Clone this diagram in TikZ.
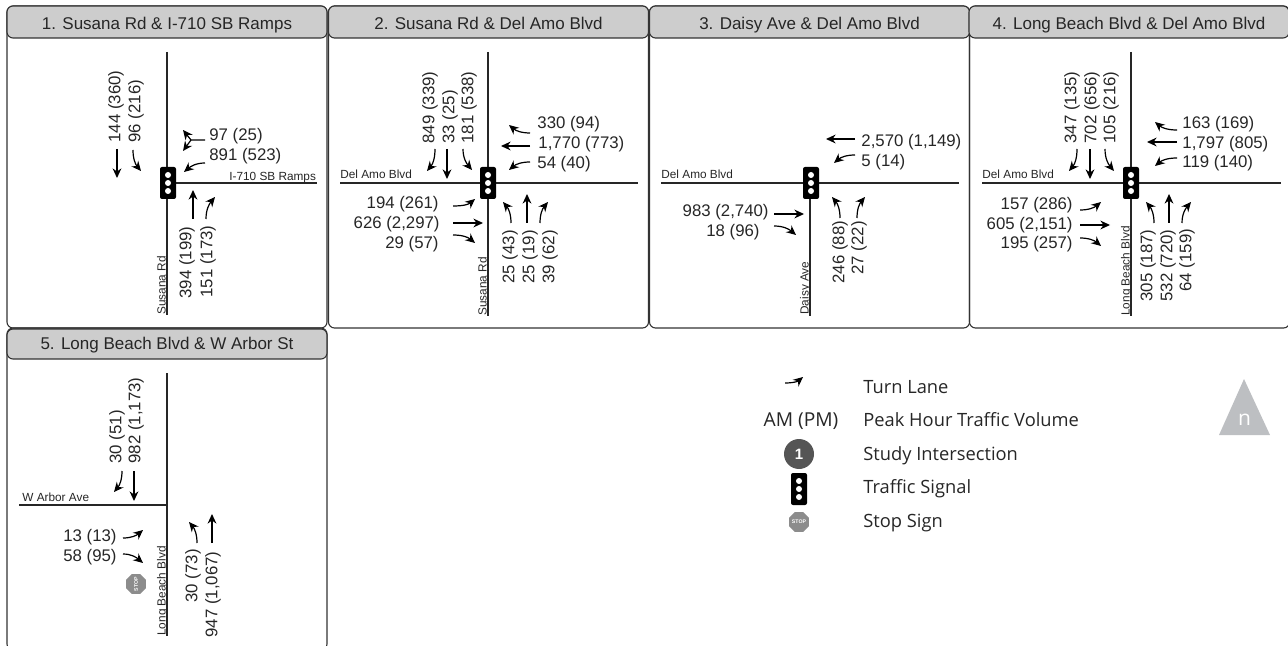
\documentclass[tikz,border=0pt]{standalone}
\usepackage{fontspec}
\setmainfont{Liberation Sans}
\newfontfamily\legendfont{Open Sans}
\usetikzlibrary{arrows.meta, positioning, shapes.geometric}
\definecolor{titlegray}{HTML}{CDCDCD}
\definecolor{framegray}{HTML}{333333}
\definecolor{northgray}{HTML}{BDBFC2}
\definecolor{badgegray}{HTML}{555555}
\definecolor{stopgray}{HTML}{8C8C8C}
\tikzset{
    panelbody/.style={rectangle, draw=framegray, line width=0.55pt, rounded corners=3pt, minimum width=160pt, minimum height=161pt, inner sep=0pt},
    paneltitle/.style={rectangle, draw=framegray, fill=titlegray, line width=0.55pt, rounded corners=3pt, minimum width=160pt, minimum height=16pt, inner sep=0pt, text height=8pt, text depth=0.5pt, text=black!85, font=\fontsize{8.5}{10}\selectfont},
    road/.style={line width=0.6pt, draw=black!85},
    lane/.style={-{Stealth[length=4.8pt,width=4.4pt]}, line width=0.6pt, black},
    volume/.style={inner sep=0pt, text=black!85, font=\fontsize{8.4}{10}\selectfont},
    volup/.style={volume, rotate=90, anchor=west},
    volright/.style={volume, anchor=west, yshift=-0.8pt},
    volleft/.style={volume, anchor=east, yshift=-0.8pt},
    street/.style={inner sep=0pt, text=black!85, font=\fontsize{5.9}{7}\selectfont, anchor=base west},
    streetup/.style={street, rotate=90},
    legendtext/.style={inner sep=0pt, anchor=base west, text=black!85, font=\legendfont\fontsize{9.15}{11}\selectfont},
    stopsign/.style={regular polygon, regular polygon sides=8, fill=stopgray, minimum size=8.8pt, inner sep=0pt, text=white, font=\bfseries\fontsize{2.6}{3}\selectfont},
    signal/.pic={
        \fill[black, rounded corners=1pt] (-8,-16) rectangle (8,16);
        \foreach \dy in {-8,0,8} \fill[white] (0,\dy) circle (3);
    }
}
\newcommand{\lanearrow}[5]{%
    \coordinate (#1a) at (#2);
    \coordinate (#1b) at (#3);
    \draw[lane] (#1a) to[out=#4, in=#5] (#1b);
}

\begin{document}
\begin{tikzpicture}[x=0.5pt, y=-0.5pt]
    \clip (0,0) rectangle (1288,646);

    % Panels
    \node[panelbody] (body1) at (167,167) {};
    \node[panelbody] (body2) at (488.5,167) {};
    \node[panelbody] (body3) at (809.5,167) {};
    \node[panelbody] (body4) at (1129.5,167) {};
    \node[panelbody] (body5) at (167,489) {};
    \node[paneltitle] (title1) at (167,22) {1. Susana Rd \& I-710 SB Ramps};
    \node[paneltitle] (title2) at (488.5,22) {2. Susana Rd \& Del Amo Blvd};
    \node[paneltitle] (title3) at (809.5,22) {3. Daisy Ave \& Del Amo Blvd};
    \node[paneltitle] (title4) at (1129,22) {4. Long Beach Blvd \& Del Amo Blvd};
    \node[paneltitle, minimum height=15pt, text height=6.5pt] (title5) at (167,344) {5. Long Beach Blvd \& W Arbor St};

    % 1. Susana Rd & I-710 SB Ramps
    \coordinate (n1) at (167,52);
    \coordinate (s1) at (167,315);
    \coordinate (c1) at (167,183);
    \coordinate (e1) at (317,183);
    \draw[road] (n1) -- (s1);
    \draw[road] (c1) -- (e1);
    \pic at (168,183) {signal};
    \node[street] (st1a) at (229,181) {I-710 SB Ramps};
    \node[streetup] (st1b) at (165.5,315) {Susana Rd};
    \node[volup] (v1a) at (116,143) {144 (360)};
    \node[volup] (v1b) at (136,143) {96 (216)};
    \node[volright] (v1c) at (209,135) {97 (25)};
    \node[volright] (v1d) at (209,155) {891 (523)};
    \node[volup] (v1e) at (187,299) {394 (199)};
    \node[volup] (v1f) at (208,298) {151 (173)};
    \lanearrow{a1a}{117,149}{117,178}{-90}{90}
    \lanearrow{a1b}{133,150}{141,171}{-90}{130}
    \coordinate (y1t) at (205,140);
    \coordinate (y1m) at (191,140);
    \coordinate (y1u) at (183,130);
    \coordinate (y1d) at (183,151);
    \draw[lane] (y1t) -- (y1m) -- (y1u);
    \draw[lane] (y1m) -- (y1d);
    \lanearrow{a1c}{205,163}{184,172}{180}{40}
    \lanearrow{a1d}{193,219}{193,190}{90}{-90}
    \lanearrow{a1e}{206,219}{215,197}{90}{-130}

    % 2. Susana Rd & Del Amo Blvd
    \coordinate (n2) at (488,52);
    \coordinate (s2) at (488,316);
    \coordinate (w2) at (340,183);
    \coordinate (e2) at (638,183);
    \draw[road] (n2) -- (s2);
    \draw[road] (w2) -- (e2);
    \pic at (488,183) {signal};
    \node[street] (st2a) at (340,179) {Del Amo Blvd};
    \node[streetup] (st2b) at (486.5,316) {Susana Rd};
    \node[volup] (v2a) at (430,144) {849 (339)};
    \node[volup] (v2b) at (450,144) {33 (25)};
    \node[volup] (v2c) at (469,144) {181 (538)};
    \node[volright] (v2d) at (537,123) {330 (94)};
    \node[volright] (v2e) at (538,143) {1,770 (773)};
    \node[volright] (v2f) at (537,163) {54 (40)};
    \node[volleft] (v2g) at (439,203) {194 (261)};
    \node[volleft] (v2h) at (440,223) {626 (2,297)};
    \node[volleft] (v2i) at (439,243) {29 (57)};
    \node[volup] (v2j) at (510,284) {25 (43)};
    \node[volup] (v2k) at (530,284) {25 (19)};
    \node[volup] (v2l) at (550,284) {39 (62)};
    \lanearrow{a2a}{435,149}{427,171}{-90}{50}
    \lanearrow{a2b}{447,149}{447,179}{-90}{90}
    \lanearrow{a2c}{463,149}{472,170}{-90}{130}
    \lanearrow{a2d}{530,133}{509,125}{180}{-40}
    \lanearrow{a2e}{530,146}{501,146}{180}{0}
    \lanearrow{a2f}{530,162}{509,170}{180}{40}
    \lanearrow{a2g}{453,206}{475,199}{0}{-140}
    \lanearrow{a2h}{453,223}{483,223}{0}{180}
    \lanearrow{a2i}{453,235}{475,243}{0}{140}
    \lanearrow{a2j}{511,223}{503,202}{90}{-50}
    \lanearrow{a2k}{527,223}{527,194}{90}{-90}
    \lanearrow{a2l}{540,223}{548,202}{90}{-130}

    % 3. Daisy Ave & Del Amo Blvd
    \coordinate (c3) at (810,183);
    \coordinate (s3) at (810,316);
    \coordinate (w3) at (661,183);
    \coordinate (e3) at (959,183);
    \draw[road] (c3) -- (s3);
    \draw[road] (w3) -- (e3);
    \pic at (811,183) {signal};
    \node[street] (st3a) at (661,179) {Del Amo Blvd};
    \node[streetup] (st3b) at (808.5,315) {Daisy Ave};
    \node[volright] (v3a) at (861,141) {2,570 (1,149)};
    \node[volright] (v3b) at (861,161) {5 (14)};
    \node[volleft] (v3c) at (769,211) {983 (2,740)};
    \node[volleft] (v3d) at (760,231) {18 (96)};
    \node[volup] (v3e) at (840,284) {246 (88)};
    \node[volup] (v3f) at (859,275) {27 (22)};
    \lanearrow{a3a}{855,139}{826,139}{180}{0}
    \lanearrow{a3b}{855,155}{834,163}{180}{40}
    \lanearrow{a3c}{774,214}{804,214}{0}{180}
    \lanearrow{a3d}{774,226}{796,235}{0}{140}
    \lanearrow{a3e}{840,218}{832,197}{90}{-50}
    \lanearrow{a3f}{857,218}{865,197}{90}{-130}

    % 4. Long Beach Blvd & Del Amo Blvd
    \coordinate (n4) at (1131,52);
    \coordinate (s4) at (1131,316);
    \coordinate (w4) at (982,183);
    \coordinate (e4) at (1281,183);
    \draw[road] (n4) -- (s4);
    \draw[road] (w4) -- (e4);
    \pic at (1131,183) {signal};
    \node[street] (st4a) at (982,179) {Del Amo Blvd};
    \node[streetup] (st4b) at (1129.5,316) {Long Beach Blvd};
    \node[volup] (v4a) at (1072,144) {347 (135)};
    \node[volup] (v4b) at (1092,144) {702 (656)};
    \node[volup] (v4c) at (1111,144) {105 (216)};
    \node[volright] (v4d) at (1182,123) {163 (169)};
    \node[volright] (v4e) at (1182,143) {1,797 (805)};
    \node[volright] (v4f) at (1182,162) {119 (140)};
    \node[volleft] (v4g) at (1073,204) {157 (286)};
    \node[volleft] (v4h) at (1073,224) {605 (2,151)};
    \node[volleft] (v4i) at (1073,243) {195 (257)};
    \node[volup] (v4j) at (1148,302) {305 (187)};
    \node[volup] (v4k) at (1168,302) {532 (720)};
    \node[volup] (v4l) at (1187,292) {64 (159)};
    \lanearrow{a4a}{1077,149}{1069,171}{-90}{50}
    \lanearrow{a4b}{1090,149}{1090,179}{-90}{90}
    \lanearrow{a4c}{1105,149}{1114,171}{-90}{130}
    \lanearrow{a4d}{1177,130}{1155,122}{180}{-40}
    \lanearrow{a4e}{1177,142}{1147,142}{180}{0}
    \lanearrow{a4f}{1177,158}{1155,166}{180}{40}
    \lanearrow{a4g}{1080,210}{1101,202}{0}{-140}
    \lanearrow{a4h}{1080,225}{1110,225}{0}{180}
    \lanearrow{a4i}{1080,238}{1101,246}{0}{140}
    \lanearrow{a4j}{1154,223}{1146,202}{90}{-50}
    \lanearrow{a4k}{1169,223}{1169,194}{90}{-90}
    \lanearrow{a4l}{1182,223}{1191,202}{90}{-130}

    % 5. Long Beach Blvd & W Arbor St
    \coordinate (n5) at (167,373);
    \coordinate (s5) at (167,636);
    \coordinate (w5) at (19,505);
    \coordinate (c5) at (167,505);
    \draw[road] (n5) -- (s5);
    \draw[road] (w5) -- (c5);
    \node[street] (st5a) at (22,501) {W Arbor Ave};
    \node[streetup] (st5b) at (165.5,636) {Long Beach Blvd};
    \node[volup] (v5a) at (117,464) {30 (51)};
    \node[volup] (v5b) at (136,464) {982 (1,173)};
    \node[volleft] (v5c) at (117,536) {13 (13)};
    \node[volleft] (v5d) at (117,556) {58 (95)};
    \node[volup] (v5e) at (193,603) {30 (73)};
    \node[volup] (v5f) at (213,638) {947 (1,067)};
    \node[stopsign, rotate=90] (stop5) at (136,584) {STOP};
    \lanearrow{a5a}{122,471}{114,492}{-90}{50}
    \lanearrow{a5b}{134,471}{134,501}{-90}{90}
    \lanearrow{a5c}{123,538}{143,530}{0}{-140}
    \lanearrow{a5d}{123,554}{143,563}{0}{140}
    \lanearrow{a5e}{197,543}{189,522}{90}{-50}
    \lanearrow{a5f}{212,543}{212,514}{90}{-90}

    % Legend
    \lanearrow{key}{785,383}{803,377}{0}{-140}
    \node[volume, font=\legendfont\fontsize{9.6}{11}\selectfont] (keyam) at (801,421) {AM (PM)};
    \node[circle, fill=badgegray, minimum size=15pt, inner sep=0pt, text=white, font=\bfseries\fontsize{7.5}{8}\selectfont] (keybadge) at (799,454) {1};
    \pic at (799,489) {signal};
    \node[stopsign] (keystop) at (799,522) {STOP};
    \node[legendtext] (txt1) at (863,393) {Turn Lane};
    \node[legendtext] (txt2) at (863,426) {Peak Hour Traffic Volume};
    \node[legendtext] (txt3) at (863,460) {Study Intersection};
    \node[legendtext] (txt4) at (863,493) {Traffic Signal};
    \node[legendtext] (txt5) at (863,527) {Stop Sign};

    % North arrow
    \coordinate (ntip) at (1244,379);
    \coordinate (nleft) at (1219,435);
    \coordinate (nright) at (1270,435);
    \fill[northgray] (ntip) -- (nright) -- (nleft) -- cycle;
    \node[inner sep=0pt, text=white, font=\legendfont\fontsize{10.5}{12}\selectfont] (nletter) at (1244.5,420) {n};
\end{tikzpicture}
\end{document}
